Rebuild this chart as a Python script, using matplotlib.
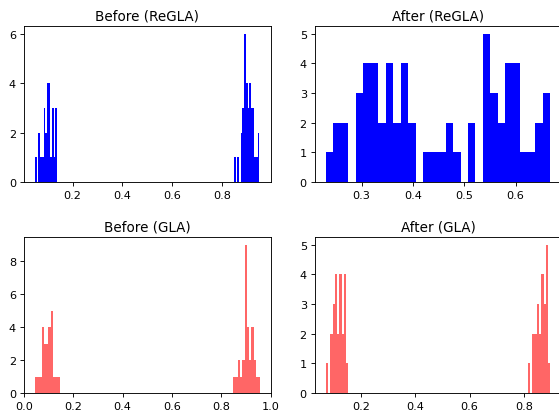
import matplotlib
matplotlib.use('Agg')
import matplotlib.pyplot as plt
import numpy as np

# bin counts, each cluster = (first bin edge, counts)
before_regla_width = 0.0068
before_regla_left = (0.050, [1, 0, 2, 1, 1, 3, 2, 4, 4, 1, 3, 1, 3])
before_regla_right = (0.8465, [1, 0, 1, 0, 2, 3, 6, 4, 3, 4, 3, 3, 1, 1, 2])

after_regla_width = 0.01457
after_regla_all = (0.2305, [1, 2, 2, 0, 3, 4, 4, 2, 4, 2, 4, 2, 0, 1, 1,
                            1, 2, 1, 0, 2, 0, 5, 3, 2, 4, 4, 1, 1, 2, 3])

before_gla_width = 0.0091
before_gla_left = (0.045, [1, 1, 1, 4, 3, 3, 4, 5, 1, 1, 1])
before_gla_right = (0.849, [1, 1, 2, 1, 2, 9, 4, 2, 4, 2, 1, 1])

after_gla_width = 0.00825
after_gla_left = (0.0717, [1, 0, 2, 3, 4, 2, 4, 2, 4, 1])
after_gla_right = (0.8142, [1, 0, 2, 2, 3, 2, 4, 3, 5, 1])


def draw(ax, clusters, width, **kw):
    for start, counts in clusters:
        edges = start + width * np.arange(len(counts))
        ax.bar(edges, counts, width=width, align='edge', linewidth=0, **kw)


dpi = 81
fig, axs = plt.subplots(2, 2, figsize=(559 / dpi, 414 / dpi), dpi=dpi)
fig.subplots_adjust(left=0.0426, right=1.0045, bottom=0.0483, top=0.934,
                    wspace=0.178, hspace=0.355)

draw(axs[0, 0], [before_regla_left, before_regla_right], before_regla_width, color='b')
axs[0, 0].set_title('Before (ReGLA)')

draw(axs[0, 1], [after_regla_all], after_regla_width, color='b')
axs[0, 1].set_title('After (ReGLA)')

draw(axs[1, 0], [before_gla_left, before_gla_right], before_gla_width, color='r', alpha=0.6)
axs[1, 0].set_xlim(0, 1)
axs[1, 0].set_title('Before (GLA)')

draw(axs[1, 1], [after_gla_left, after_gla_right], after_gla_width, color='r', alpha=0.6)
axs[1, 1].set_title('After (GLA)')

fig.savefig('out.png', dpi=dpi)
